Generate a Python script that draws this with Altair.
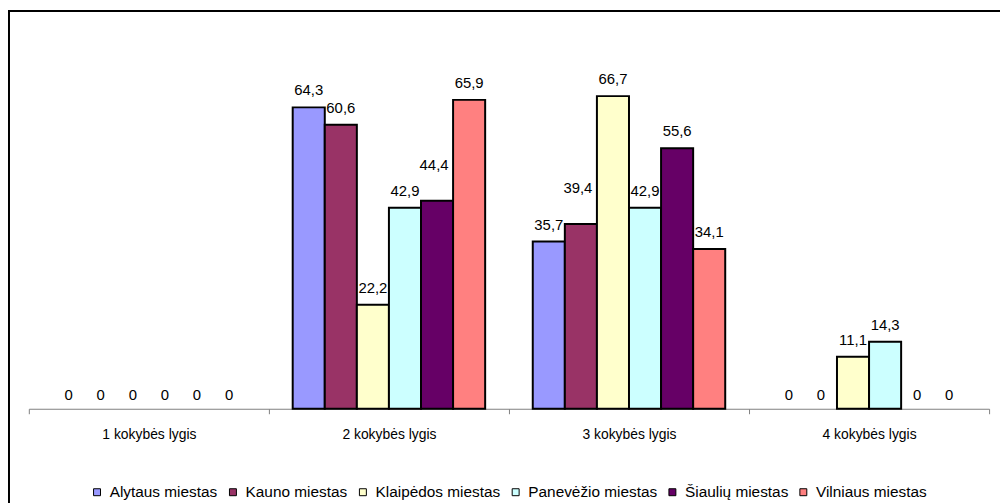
import altair as alt
import pandas as pd

categories = ["1 kokybės lygis", "2 kokybės lygis", "3 kokybės lygis", "4 kokybės lygis"]
series = ["Alytaus miestas", "Kauno miestas", "Klaipėdos miestas",
          "Panevėžio miestas", "Šiaulių miestas", "Vilniaus miestas"]
alytaus = [0, 64.3, 35.7, 0]
kauno = [0, 60.6, 39.4, 0]
klaipedos = [0, 22.2, 66.7, 11.1]
panevezio = [0, 42.9, 42.9, 14.3]
siauliu = [0, 44.4, 55.6, 0]
vilniaus = [0, 65.9, 34.1, 0]
colors = ["#9999FF", "#993366", "#FFFFCC", "#CCFFFF", "#660066", "#FF8080"]

# labels that the original chart lifted higher to avoid overlapping neighbours
raised = [("2 kokybės lygis", "Šiaulių miestas"), ("3 kokybės lygis", "Kauno miestas")]

values = [alytaus, kauno, klaipedos, panevezio, siauliu, vilniaus]
rows = []
for s, vals in zip(series, values):
    for c, v in zip(categories, vals):
        lab = "0" if v == 0 else f"{v:.1f}".replace(".", ",")
        rows.append({"cat": c, "series": s, "value": v, "label": lab,
                     "raised": (c, s) in raised})
df = pd.DataFrame(rows)

FONT = "Liberation Sans"

x_enc = alt.X("cat:N", sort=categories, title=None,
              scale=alt.Scale(paddingInner=0, paddingOuter=0),
              axis=alt.Axis(labelAngle=0, tickBand="extent", labelFontSize=14,
                            labelFont=FONT, labelColor="black", domainColor="#808080",
                            tickColor="#808080", tickSize=5, labelPadding=14,
                            grid=False))
xo_enc = alt.XOffset("series:N", sort=series,
                     scale=alt.Scale(paddingInner=0, paddingOuter=0.742))
y_enc = alt.Y("value:Q", scale=alt.Scale(domain=[0, 80]), axis=None)

base = alt.Chart(df)

bars = base.mark_bar(stroke="black", strokeWidth=2).encode(
    x=x_enc, xOffset=xo_enc, y=y_enc,
    color=alt.Color("series:N", sort=series,
                    scale=alt.Scale(domain=series, range=colors),
                    legend=alt.Legend(title=None, orient="none", direction="horizontal",
                                      legendX=61, legendY=454,
                                      symbolType="square", symbolSize=49,
                                      symbolStrokeColor="black", symbolStrokeWidth=1,
                                      labelFontSize=15.5, labelFont=FONT, labelColor="black",
                                      columnPadding=7, labelOffset=5)),
).transform_filter("datum.value > 0")


def text_layer(filter_expr, dy, dx=0):
    return base.mark_text(fontSize=15, font=FONT, color="black", baseline="middle",
                          dy=dy, dx=dx).encode(
        x=x_enc, xOffset=xo_enc, y=y_enc, text="label:N"
    ).transform_filter(filter_expr)


labels = text_layer("!datum.raised && datum.value > 0", -17)
labels_zero = text_layer("datum.value == 0", -14)
labels_raised = text_layer("datum.raised", -36, -3)

frame = alt.Chart(pd.DataFrame({"a": [0]})).mark_rect(
    fillOpacity=0, stroke="black", strokeWidth=2).encode(
    x=alt.value(-20), x2=alt.value(1000), y=alt.value(-23), y2=alt.value(520))

chart = alt.layer(frame, bars, labels, labels_zero, labels_raised).properties(
    width=968, height=378,
    autosize=alt.AutoSizeParams(type="none"),
    padding={"left": 21, "top": 24, "right": 11, "bottom": 93},
).configure(background="white", view=alt.ViewConfig(strokeWidth=0, stroke="transparent"))

chart.save("out.html", embed_options={"renderer": "svg", "actions": False})
